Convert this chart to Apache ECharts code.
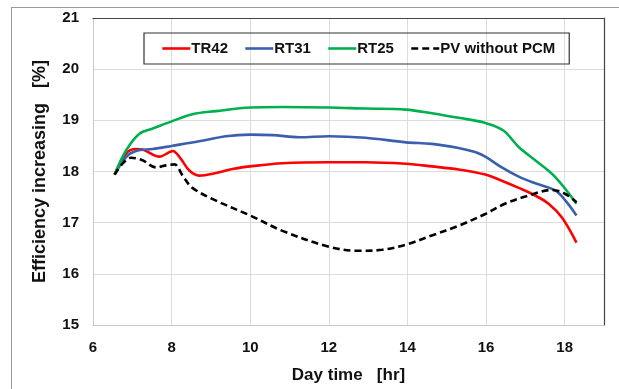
<!DOCTYPE html>
<html>
<head>
<meta charset="utf-8">
<script src="https://cdn.jsdelivr.net/npm/echarts@6/dist/echarts.min.js"></script>
<style>
  html, body { margin: 0; padding: 0; background: #fff; }
  #chart { width: 619px; height: 389px; }
</style>
</head>
<body>
<div id="chart"></div>
<script>
// 各曲线数据 (时间 hr, 效率 %)
const tr42Hours = [6.55, 6.84, 7.09, 7.26, 7.69, 8.03, 8.23, 8.45, 8.7, 9.13, 9.55, 10.0, 10.82, 12.0, 12.93, 13.96, 14.62, 15.3, 15.98, 16.4, 16.83, 17.25, 17.59, 17.93, 18.3];
const tr42Values = [17.94, 18.35, 18.44, 18.43, 18.29, 18.4, 18.25, 18.02, 17.92, 17.97, 18.05, 18.1, 18.16, 18.18, 18.18, 18.15, 18.1, 18.04, 17.94, 17.82, 17.68, 17.53, 17.37, 17.1, 16.61];

const rt31Hours = [6.55, 6.84, 7.09, 7.52, 8.0, 8.7, 9.38, 10.0, 10.57, 11.25, 12.0, 12.93, 13.96, 14.62, 15.3, 15.72, 15.98, 16.4, 16.83, 17.25, 17.76, 18.02, 18.3];
const rt31Values = [17.94, 18.28, 18.4, 18.44, 18.5, 18.59, 18.69, 18.72, 18.71, 18.67, 18.69, 18.66, 18.57, 18.54, 18.46, 18.38, 18.29, 18.08, 17.9, 17.77, 17.63, 17.43, 17.14];

const rt25Hours = [6.55, 6.84, 7.18, 7.52, 8.0, 8.53, 9.13, 10.0, 10.82, 12.0, 12.93, 13.96, 14.62, 15.3, 15.98, 16.44, 16.83, 17.25, 17.76, 18.3];
const rt25Values = [17.94, 18.41, 18.74, 18.84, 18.98, 19.12, 19.18, 19.25, 19.26, 19.25, 19.23, 19.21, 19.14, 19.05, 18.95, 18.8, 18.48, 18.22, 17.89, 17.37];

const pvHours = [6.55, 6.97, 7.26, 7.6, 7.86, 8.07, 8.28, 8.53, 9.13, 10.0, 10.82, 12.0, 12.77, 13.36, 13.96, 14.62, 15.3, 15.98, 16.48, 17.08, 17.67, 18.02, 18.3];
const pvValues = [17.94, 18.27, 18.22, 18.08, 18.12, 18.14, 17.92, 17.68, 17.43, 17.14, 16.84, 16.53, 16.45, 16.47, 16.57, 16.75, 16.94, 17.17, 17.37, 17.53, 17.64, 17.56, 17.4];

const xTicks = [6, 8, 10, 12, 14, 16, 18];
const yTicks = [15, 16, 17, 18, 19, 20, 21];

function pairs(hours, values) {
    return hours.map((h, i) => [h, values[i]]);
}

const FONT = '"Liberation Sans", Arial, sans-serif';

const chart = echarts.init(document.getElementById('chart'));

function lineSeries(name, hours, values, color, dashed) {
    return {
        name: name,
        type: 'line',
        smooth: 0.35,
        symbol: 'none',
        data: pairs(hours, values),
        lineStyle: {
            color: color,
            width: 2.6,
            type: dashed ? [7, 4] : 'solid'
        },
        itemStyle: { color: color }
    };
}

chart.setOption({
    animation: false,
    backgroundColor: '#fff',
    grid: { left: 93, top: 18, right: 15, bottom: 64 },
    legend: {
        top: 33,
        left: 144,
        width: 423,
        height: 33,
        padding: [8, 14, 8, 17],
        borderColor: '#333',
        borderWidth: 1.2,
        borderRadius: 0,
        itemWidth: 28,
        itemHeight: 3,
        itemGap: 16,
        itemStyle: { opacity: 0 },
        lineStyle: { width: 2.6 },
        textStyle: { fontFamily: FONT, fontWeight: 'bold', fontSize: 15, color: '#111', padding: [0, 0, 0, -4] },
        data: ['TR42', 'RT31', 'RT25', 'PV without PCM']
    },
    xAxis: [
        {
            type: 'value',
            min: 6,
            max: 19,
            interval: 2,
            name: 'Day time   [hr]',
            nameLocation: 'middle',
            nameGap: 42,
            nameTextStyle: { fontFamily: FONT, fontWeight: 'bold', fontSize: 17, color: '#111' },
            axisLine: { show: true, lineStyle: { color: '#c8c8c8', width: 1 } },
            axisTick: { show: false },
            axisLabel: {
                fontFamily: FONT, fontWeight: 'bold', fontSize: 15, color: '#111', margin: 15,
                formatter: v => (xTicks.indexOf(v) >= 0 ? String(v) : '')
            },
            splitLine: { show: true, lineStyle: { color: '#dcdcdc', width: 1 } }
        },
        {
            type: 'value',
            position: 'top',
            min: 6,
            max: 19,
            axisLine: { show: true, lineStyle: { color: '#444', width: 1.2 } },
            axisTick: { show: false },
            axisLabel: { show: false },
            splitLine: { show: false }
        }
    ],
    yAxis: [
        {
            type: 'value',
            min: 15,
            max: 21,
            interval: 1,
            name: 'Efficiency increasing   [%]',
            nameLocation: 'middle',
            nameGap: 44,
            nameTextStyle: { fontFamily: FONT, fontWeight: 'bold', fontSize: 18, color: '#111' },
            axisLine: { show: true, lineStyle: { color: '#c8c8c8', width: 1 } },
            axisTick: { show: false },
            axisLabel: {
                fontFamily: FONT, fontWeight: 'bold', fontSize: 15, color: '#111', margin: 14,
                formatter: v => (yTicks.indexOf(v) >= 0 ? String(v) : '')
            },
            splitLine: { show: true, lineStyle: { color: '#dcdcdc', width: 1 } }
        },
        {
            type: 'value',
            position: 'right',
            min: 15,
            max: 21,
            axisLine: { show: true, lineStyle: { color: '#444', width: 1.2 } },
            axisTick: { show: false },
            axisLabel: { show: false },
            splitLine: { show: false }
        }
    ],
    graphic: [
        { type: 'line', shape: { x1: 11, y1: 7.5, x2: 619, y2: 7.5 }, style: { stroke: '#999', lineWidth: 1 } },
        { type: 'line', shape: { x1: 11.5, y1: 7, x2: 11.5, y2: 389 }, style: { stroke: '#999', lineWidth: 1 } }
    ],
    series: [
        lineSeries('TR42', tr42Hours, tr42Values, '#ff0000', false),
        lineSeries('RT31', rt31Hours, rt31Values, '#3a5fac', false),
        lineSeries('RT25', rt25Hours, rt25Values, '#00b04f', false),
        lineSeries('PV without PCM', pvHours, pvValues, '#000000', true)
    ]
});
</script>
</body>
</html>
